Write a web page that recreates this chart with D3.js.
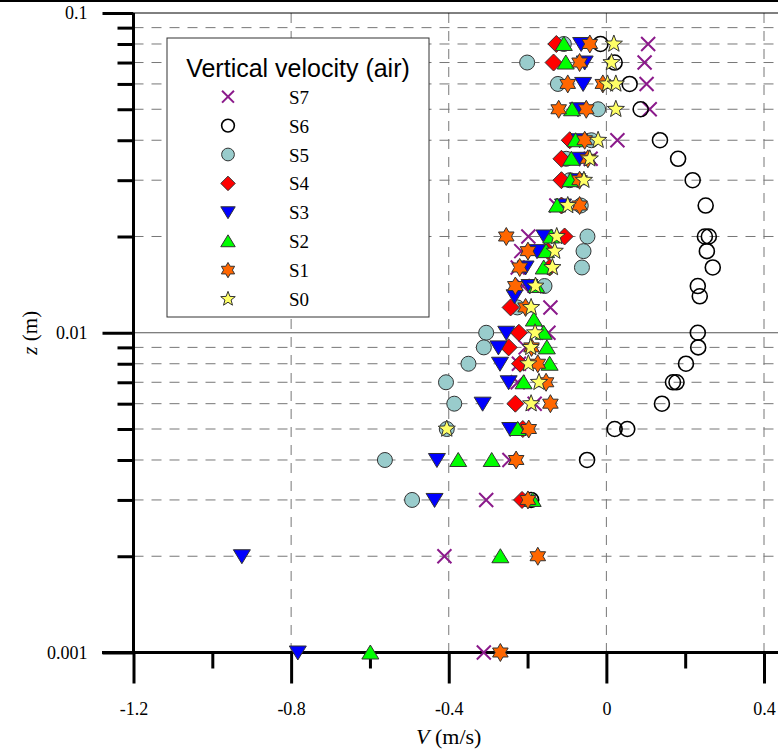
<!DOCTYPE html>
<html>
<head>
<meta charset="utf-8">
<script src="https://cdn.jsdelivr.net/npm/d3@7"></script>
<style>
  body { margin: 0; background: #fff; }
  svg { display: block; }
</style>
</head>
<body>
<div id="chart"></div>
<script>
// data: [z (m), V (m/s)]
const s7 = [[0.08, 0.106], [0.07, 0.097], [0.06, 0.102], [0.05, 0.110], [0.04, 0.028], [0.035, -0.040],
  [0.025, -0.127], [0.02, -0.198], [0.018, -0.216], [0.016, -0.225], [0.014, -0.212], [0.012, -0.142],
  [0.01, -0.147], [0.009, -0.205], [0.008, -0.222], [0.007, -0.225], [0.006, -0.182], [0.004, -0.246],
  [0.003, -0.305], [0.002, -0.411], [0.001, -0.311]];
const s6 = [[0.08, -0.015], [0.07, 0.021], [0.06, 0.059], [0.05, 0.087], [0.04, 0.136], [0.035, 0.182],
  [0.03, 0.219], [0.025, 0.252], [0.02, 0.250], [0.02, 0.260], [0.018, 0.255], [0.016, 0.270],
  [0.014, 0.232], [0.013, 0.237], [0.01, 0.232], [0.009, 0.233], [0.008, 0.202], [0.007, 0.169],
  [0.007, 0.178], [0.006, 0.141], [0.005, 0.021], [0.005, 0.053], [0.004, -0.049], [0.003, -0.191]];
const s5 = [[0.08, -0.108], [0.07, -0.201], [0.06, -0.123], [0.05, -0.021], [0.04, -0.038], [0.035, -0.102],
  [0.03, -0.093], [0.025, -0.065], [0.02, -0.048], [0.018, -0.058], [0.016, -0.062], [0.014, -0.157],
  [0.012, -0.226], [0.01, -0.305], [0.009, -0.311], [0.008, -0.350], [0.007, -0.407], [0.006, -0.386],
  [0.005, -0.405], [0.004, -0.562], [0.003, -0.493]];
const s4 = [[0.08, -0.127], [0.07, -0.134], [0.04, -0.093], [0.035, -0.114], [0.03, -0.114], [0.025, -0.114],
  [0.02, -0.106], [0.018, -0.148], [0.016, -0.144], [0.012, -0.243], [0.01, -0.222], [0.009, -0.248],
  [0.008, -0.219], [0.006, -0.231], [0.005, -0.212], [0.003, -0.214]];
const s3 = [[0.08, -0.064], [0.07, -0.055], [0.06, -0.059], [0.05, -0.072], [0.04, -0.068], [0.035, -0.068],
  [0.03, -0.074], [0.025, -0.110], [0.02, -0.157], [0.018, -0.176], [0.016, -0.205], [0.014, -0.195],
  [0.013, -0.233], [0.01, -0.254], [0.009, -0.274], [0.008, -0.270], [0.007, -0.248], [0.006, -0.314],
  [0.005, -0.244], [0.004, -0.430], [0.003, -0.436], [0.002, -0.925], [0.001, -0.783]];
const s2 = [[0.08, -0.108], [0.07, -0.103], [0.05, -0.087], [0.04, -0.078], [0.035, -0.089], [0.03, -0.091],
  [0.025, -0.125], [0.02, -0.140], [0.018, -0.153], [0.016, -0.159], [0.014, -0.178], [0.011, -0.184],
  [0.01, -0.159], [0.009, -0.151], [0.008, -0.144], [0.007, -0.210], [0.005, -0.225], [0.004, -0.376],
  [0.004, -0.291], [0.003, -0.187], [0.002, -0.269], [0.001, -0.599]];
const s1 = [[0.08, -0.042], [0.07, -0.068], [0.06, -0.098], [0.06, -0.009], [0.05, -0.121], [0.05, -0.051],
  [0.04, -0.055], [0.035, -0.047], [0.03, -0.068], [0.025, -0.068], [0.02, -0.254], [0.018, -0.199],
  [0.016, -0.220], [0.014, -0.231], [0.012, -0.205], [0.009, -0.190], [0.008, -0.174], [0.007, -0.153],
  [0.006, -0.142], [0.005, -0.197], [0.004, -0.229], [0.003, -0.199], [0.002, -0.174], [0.001, -0.269]];
const s0 = [[0.08, 0.019], [0.07, 0.013], [0.06, 0.003], [0.06, 0.024], [0.05, 0.024], [0.04, -0.021],
  [0.035, -0.042], [0.03, -0.057], [0.025, -0.098], [0.02, -0.126], [0.018, -0.131], [0.016, -0.137],
  [0.014, -0.180], [0.012, -0.191], [0.01, -0.181], [0.009, -0.192], [0.008, -0.198], [0.007, -0.171],
  [0.006, -0.191], [0.005, -0.405]];

const seriesNames = ["S7", "S6", "S5", "S4", "S3", "S2", "S1", "S0"];
const seriesData = [s7, s6, s5, s4, s3, s2, s1, s0];
const xTicks = [-1.2, -0.8, -0.4, 0, 0.4];
const xMinor = [-1.0, -0.6, -0.2, 0.2];
const yMajor = [0.001, 0.01, 0.1];
const yMinor = [0.002, 0.003, 0.004, 0.005, 0.006, 0.007, 0.008, 0.009,
  0.02, 0.03, 0.04, 0.05, 0.06, 0.07, 0.08, 0.09];

// marker shapes (local coords, s = scale)
function starPath(n, ro, ri) {
  const pts = [];
  for (let i = 0; i < 2 * n; i++) {
    const a = Math.PI * i / n - Math.PI / 2;
    const r = i % 2 ? ri : ro;
    pts.push([r * Math.cos(a), r * Math.sin(a)]);
  }
  return "M" + pts.map(p => p[0].toFixed(2) + "," + p[1].toFixed(2)).join("L") + "Z";
}
const shapes = {
  cross: s => `M${-7 * s},${-7 * s}L${7 * s},${7 * s}M${-7 * s},${7 * s}L${7 * s},${-7 * s}`,
  circle: s => d3.symbol(d3.symbolCircle, Math.PI * (7.5 * s) ** 2)(),
  diamond: s => `M0,${-8.5 * s}L${8.5 * s},0L0,${8.5 * s}L${-8.5 * s},0Z`,
  triDown: s => `M${-8.5 * s},${-6.5 * s}L${8.5 * s},${-6.5 * s}L0,${7.5 * s}Z`,
  triUp: s => `M${-8.5 * s},${6.5 * s}L${8.5 * s},${6.5 * s}L0,${-7.5 * s}Z`,
  star6: s => starPath(6, 9 * s, 5.2 * s),
  star5: s => starPath(5, 9 * s, 3.8 * s)
};
const styles = [
  { shape: "cross", fill: "none", stroke: "#8b1a8b", sw: 2 },
  { shape: "circle", fill: "none", stroke: "#000", sw: 1.6 },
  { shape: "circle", fill: "#99cccc", stroke: "#333", sw: 1 },
  { shape: "diamond", fill: "#ff0000", stroke: "#333", sw: 1 },
  { shape: "triDown", fill: "#0000ff", stroke: "#333", sw: 1 },
  { shape: "triUp", fill: "#00ff00", stroke: "#333", sw: 1 },
  { shape: "star6", fill: "#ff6600", stroke: "#333", sw: 1 },
  { shape: "star5", fill: "#ffff66", stroke: "#333", sw: 1 }
];

const W = 778, H = 751;
const svg = d3.select("#chart").append("svg").attr("width", W).attr("height", H);

const x = d3.scaleLinear().domain([-1.2, 0.4]).range([133.5, 764]);
const y = d3.scaleLog().domain([0.001, 0.1]).range([652.5, 13]);
const x0 = x(-1.2), yBot = y(0.001), yTop = y(0.1);

// page rule at top
svg.append("line").attr("x1", 0).attr("x2", W).attr("y1", 1).attr("y2", 1)
  .attr("stroke", "#000").attr("stroke-width", 2);

// grid
const grid = svg.append("g");
grid.selectAll(".hg").data(yMinor).join("line")
  .attr("x1", x0).attr("x2", W).attr("y1", d => y(d)).attr("y2", d => y(d))
  .attr("stroke", "#777").attr("stroke-width", 1).attr("stroke-dasharray", "10,8");
grid.selectAll(".vg").data(xTicks.slice(1)).join("line")
  .attr("x1", d => x(d)).attr("x2", d => x(d)).attr("y1", yTop).attr("y2", yBot)
  .attr("stroke", "#777").attr("stroke-width", 1).attr("stroke-dasharray", "10,8");
grid.append("line").attr("x1", x0).attr("x2", W).attr("y1", y(0.01)).attr("y2", y(0.01))
  .attr("stroke", "#555").attr("stroke-width", 1);
grid.append("line").attr("x1", x0).attr("x2", W).attr("y1", yTop).attr("y2", yTop)
  .attr("stroke", "#000").attr("stroke-width", 1);

const tickFont = g => g.selectAll("text")
  .attr("font-family", "'Liberation Serif', 'Times New Roman', serif")
  .attr("font-size", 18).attr("fill", "#000");

// y axis
svg.append("g").attr("transform", `translate(${x0},0)`)
  .call(d3.axisLeft(y).tickValues(yMajor).tickSize(31).tickPadding(15).tickFormat(d => String(d)))
  .call(g => g.select(".domain").remove())
  .call(g => g.selectAll("line").attr("stroke-width", 3))
  .call(tickFont);
svg.append("g").attr("transform", `translate(${x0},0)`)
  .call(d3.axisLeft(y).tickValues(yMinor).tickSize(16).tickFormat(""))
  .call(g => g.select(".domain").remove())
  .call(g => g.selectAll("line").attr("stroke-width", 3));
svg.append("line").attr("x1", x0).attr("x2", x0).attr("y1", yTop).attr("y2", yBot)
  .attr("stroke", "#000").attr("stroke-width", 3);

// x axis
svg.append("g").attr("transform", `translate(0,${yBot})`)
  .call(d3.axisBottom(x).tickValues(xTicks).tickSize(31).tickPadding(19).tickFormat(d => String(d)))
  .call(g => g.select(".domain").remove())
  .call(g => g.selectAll("line").attr("stroke-width", 3))
  .call(tickFont);
svg.append("g").attr("transform", `translate(0,${yBot})`)
  .call(d3.axisBottom(x).tickValues(xMinor).tickSize(16).tickFormat(""))
  .call(g => g.select(".domain").remove())
  .call(g => g.selectAll("line").attr("stroke-width", 3));
svg.append("line").attr("x1", 102).attr("x2", W).attr("y1", yBot).attr("y2", yBot)
  .attr("stroke", "#000").attr("stroke-width", 3);

// axis titles
const xt = svg.append("text").attr("x", x(-0.4)).attr("y", 744).attr("text-anchor", "middle")
  .attr("font-family", "'Liberation Serif', serif").attr("font-size", 22);
xt.append("tspan").attr("font-style", "italic").text("V");
xt.append("tspan").text(" (m/s)");
const yt = svg.append("text").attr("transform", `translate(37,${y(0.01)}) rotate(-90)`)
  .attr("text-anchor", "middle")
  .attr("font-family", "'Liberation Serif', serif").attr("font-size", 21);
yt.append("tspan").attr("font-style", "italic").text("z");
yt.append("tspan").text(" (m)");

// legend
const legend = svg.append("g");
legend.append("rect").attr("x", 167).attr("y", 38).attr("width", 262).attr("height", 279)
  .attr("fill", "#fff").attr("stroke", "#333").attr("stroke-width", 1);
legend.append("text").attr("x", 298).attr("y", 77).attr("text-anchor", "middle")
  .attr("font-family", "'Liberation Sans', Arial, sans-serif").attr("font-size", 25)
  .text("Vertical velocity (air)");
const items = legend.selectAll(".item").data(seriesNames).join("g")
  .attr("transform", (d, i) => `translate(228,${96.7 + i * 28.9})`);
items.append("path")
  .attr("d", (d, i) => shapes[styles[i].shape](0.85))
  .attr("fill", (d, i) => styles[i].fill)
  .attr("stroke", (d, i) => styles[i].stroke)
  .attr("stroke-width", (d, i) => styles[i].sw);
items.append("text").attr("x", 61).attr("y", 7)
  .attr("font-family", "'Liberation Serif', serif").attr("font-size", 19)
  .text(d => d);

// markers
const marks = svg.append("g");
seriesData.forEach((data, i) => {
  const st = styles[i];
  marks.append("g").selectAll("path").data(data).join("path")
    .attr("transform", d => `translate(${x(d[1])},${y(d[0])})`)
    .attr("d", shapes[st.shape](1))
    .attr("fill", st.fill)
    .attr("stroke", st.stroke)
    .attr("stroke-width", st.sw);
});
</script>
</body>
</html>
